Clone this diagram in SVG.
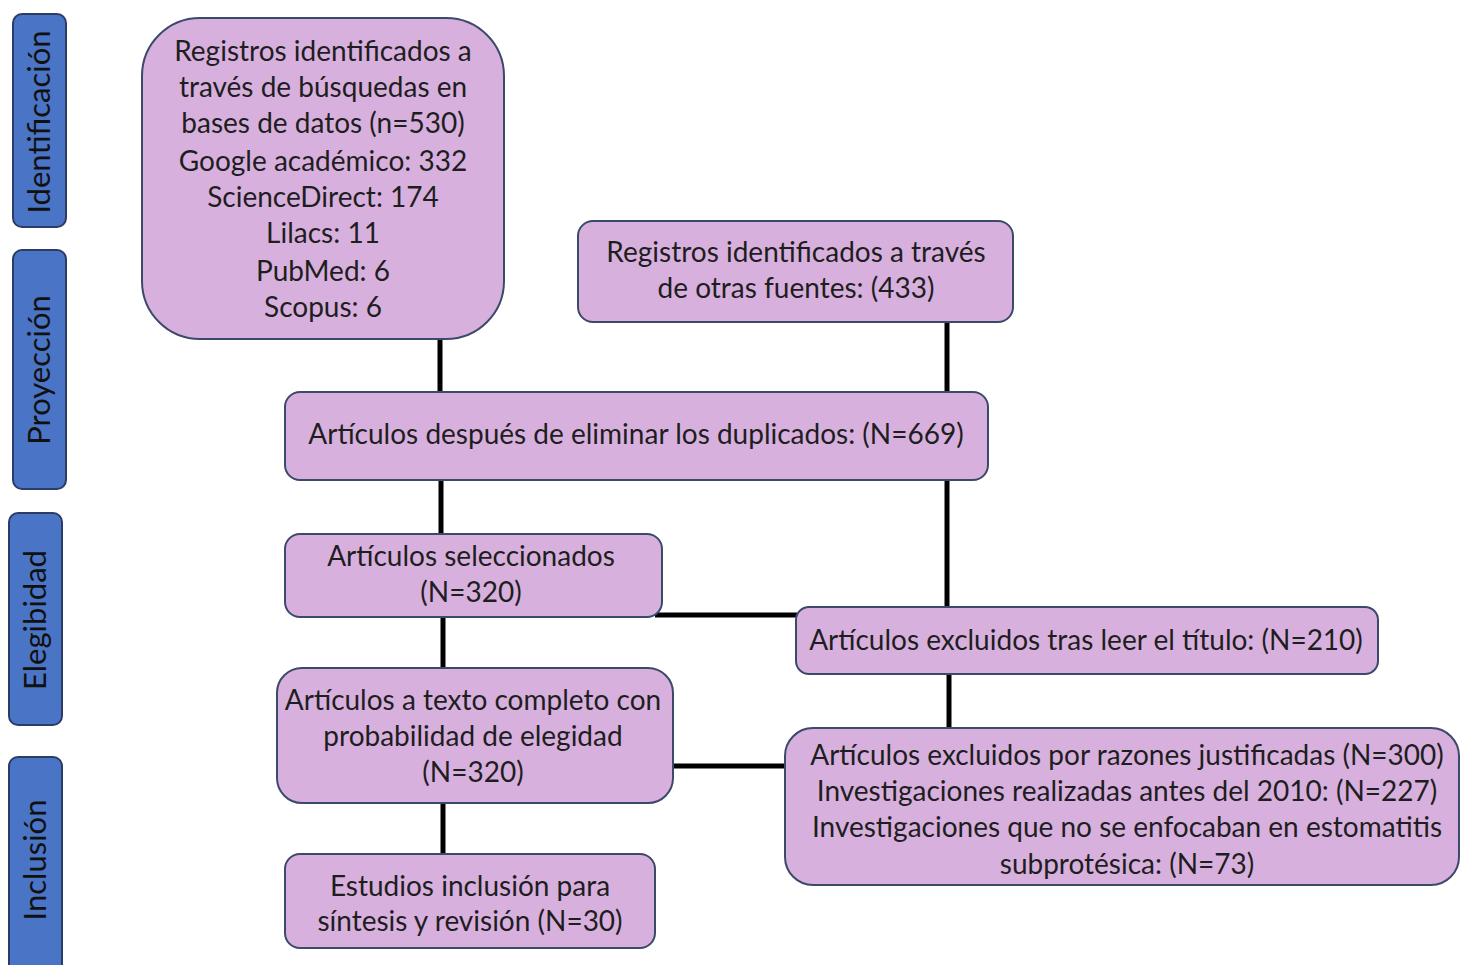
<svg xmlns="http://www.w3.org/2000/svg" width="1460" height="965" viewBox="0 0 1460 965">
<style>
.bg{fill:#ffffff}
.box{fill:#d8b0de;stroke:#3c4a6a;stroke-width:2}
.side{fill:#4a74c6;stroke:#2b3d66;stroke-width:2}
.t{font-family:Lato,"Liberation Sans",sans-serif;font-size:28px;fill:#1e1e1e;text-anchor:middle}
.s{font-family:Lato,"Liberation Sans",sans-serif;font-size:31px;fill:#111;text-anchor:middle}
.c{stroke:#000;stroke-width:5;fill:none}
</style>
<rect class="bg" x="0" y="0" width="1460" height="965"/>
<g id="connectors">
<line class="c" x1="440" y1="338" x2="440" y2="392"/>
<line class="c" x1="947" y1="322" x2="947" y2="392"/>
<line class="c" x1="441" y1="480" x2="441" y2="534"/>
<line class="c" x1="947" y1="480" x2="947" y2="607"/>
<line class="c" x1="443" y1="617" x2="443" y2="668"/>
<line class="c" x1="655" y1="615" x2="797" y2="615"/>
<line class="c" x1="949" y1="674" x2="949" y2="728"/>
<line class="c" x1="673" y1="766" x2="786" y2="766"/>
<line class="c" x1="443" y1="803" x2="443" y2="854"/>
</g>
<g id="side-identificacion">
<rect class="side" x="13" y="14" width="53" height="213" rx="9"/>
<text class="s" transform="translate(50,122) rotate(-90)">Identificación</text>
</g>
<g id="side-proyeccion">
<rect class="side" x="13" y="250" width="53" height="239" rx="9"/>
<text class="s" transform="translate(50,370) rotate(-90)">Proyección</text>
</g>
<g id="side-elegibidad">
<rect class="side" x="9" y="513" width="53" height="212" rx="9"/>
<text class="s" transform="translate(46,620) rotate(-90)">Elegibidad</text>
</g>
<g id="side-inclusion">
<rect class="side" x="9" y="757" width="53" height="230" rx="9"/>
<text class="s" transform="translate(46,860) rotate(-90)">Inclusión</text>
</g>
<g id="n1">
<rect class="box" x="142" y="18" width="362" height="321" rx="58"/>
<text class="t" x="323" y="61">Registros identificados a</text>
<text class="t" x="323" y="97">través de búsquedas en</text>
<text class="t" x="323" y="133">bases de datos (n=530)</text>
<text class="t" x="323" y="171">Google académico: 332</text>
<text class="t" x="323" y="207">ScienceDirect: 174</text>
<text class="t" x="323" y="243">Lilacs: 11</text>
<text class="t" x="323" y="281">PubMed: 6</text>
<text class="t" x="323" y="317">Scopus: 6</text>
</g>
<g id="n2">
<rect class="box" x="578" y="221" width="435" height="101" rx="15"/>
<text class="t" x="796" y="262">Registros identificados a través</text>
<text class="t" x="796" y="298">de otras fuentes: (433)</text>
</g>
<g id="n3">
<rect class="box" x="285" y="392" width="703" height="88" rx="15"/>
<text class="t" x="636" y="444">Artículos después de eliminar los duplicados: (N=669)</text>
</g>
<g id="n4">
<rect class="box" x="285" y="534" width="377" height="83" rx="15"/>
<text class="t" x="471" y="566">Artículos seleccionados</text>
<text class="t" x="471" y="602">(N=320)</text>
</g>
<g id="n5">
<rect class="box" x="277" y="668" width="396" height="135" rx="25"/>
<text class="t" x="473" y="710">Artículos a texto completo con</text>
<text class="t" x="473" y="746">probabilidad de elegidad</text>
<text class="t" x="473" y="782">(N=320)</text>
</g>
<g id="n6">
<rect class="box" x="285" y="854" width="370" height="94" rx="15"/>
<text class="t" x="470" y="896">Estudios inclusión para</text>
<text class="t" x="470" y="931">síntesis y revisión (N=30)</text>
</g>
<g id="n7">
<rect class="box" x="796" y="607" width="582" height="67" rx="13"/>
<text class="t" x="1086" y="650">Artículos excluidos tras leer el título: (N=210)</text>
</g>
<g id="n8">
<rect class="box" x="785" y="728" width="674" height="157" rx="28"/>
<text class="t" x="1127" y="765">Artículos excluidos por razones justificadas (N=300)</text>
<text class="t" x="1127" y="801">Investigaciones realizadas antes del 2010: (N=227)</text>
<text class="t" x="1127" y="837">Investigaciones que no se enfocaban en estomatitis</text>
<text class="t" x="1127" y="874">subprotésica: (N=73)</text>
</g>
</svg>
